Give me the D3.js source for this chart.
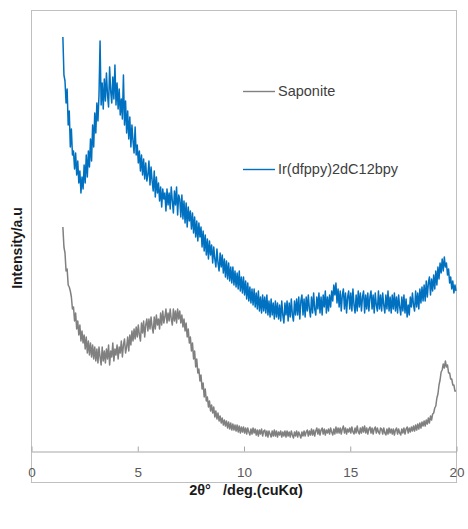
<!DOCTYPE html>
<html>
<head>
<meta charset="utf-8">
<script src="https://cdn.jsdelivr.net/npm/d3@7"></script>
<style>
  html, body { margin: 0; padding: 0; background: #ffffff; }
  svg { display: block; }
</style>
</head>
<body>
<svg id="chart" width="468" height="529"></svg>
<script>
// XRD scan: 2θ from 1.5° to 20° in 0.05° steps
const scanStart = 1.5;
const scanStep = 0.05;

// Ir(dfppy)2dC12bpy intercalated sample (upper trace)
const irComplex = [
  414, 376, 370, 348, 362, 326, 340, 304, 322, 296,
  300, 282, 298, 276, 290, 268, 280, 258, 274, 262,
  286, 268, 296, 274, 300, 284, 312, 290, 326, 304,
  338, 318, 348, 330, 356, 410, 346, 368, 342, 372,
  350, 378, 356, 344, 384, 360, 348, 374, 352, 386,
  346, 368, 342, 362, 336, 352, 332, 376, 326, 350,
  318, 340, 312, 334, 304, 326, 310, 298, 324, 296,
  306, 288, 300, 280, 296, 276, 292, 272, 288, 270,
  276, 290, 266, 284, 270, 260, 280, 254, 274, 258,
  268, 250, 264, 244, 262, 252, 258, 240, 262, 246,
  258, 242, 264, 250, 238, 260, 246, 264, 236, 256,
  252, 234, 256, 232, 250, 228, 248, 224, 244, 230,
  240, 222, 238, 218, 234, 214, 230, 210, 228, 214,
  224, 204, 220, 200, 216, 196, 212, 192, 210, 196,
  206, 188, 204, 192, 184, 202, 188, 180, 198, 184,
  196, 178, 192, 174, 190, 172, 188, 170, 184, 168,
  184, 166, 180, 164, 178, 162, 180, 160, 174, 158,
  174, 156, 170, 152, 168, 150, 164, 148, 162, 146,
  162, 144, 158, 142, 160, 140, 154, 138, 156, 140,
  154, 138, 156, 136, 150, 134, 152, 136, 148, 132,
  150, 134, 148, 132, 146, 130, 150, 136, 128, 148,
  136, 150, 130, 148, 134, 152, 136, 130, 150, 136,
  152, 136, 154, 132, 150, 156, 136, 152, 134, 154,
  140, 156, 142, 134, 154, 138, 158, 142, 136, 154,
  142, 158, 138, 154, 136, 156, 144, 160, 138, 154,
  140, 156, 144, 160, 150, 166, 156, 168, 148, 162,
  144, 160, 140, 156, 162, 142, 158, 138, 154, 160,
  142, 158, 140, 162, 146, 138, 156, 140, 160, 144,
  158, 140, 154, 160, 138, 156, 142, 158, 140, 154,
  160, 142, 156, 138, 158, 146, 140, 160, 142, 156,
  140, 158, 146, 138, 156, 142, 160, 140, 154, 138,
  156, 142, 158, 140, 154, 138, 156, 144, 136, 154,
  140, 156, 138, 152, 134, 146, 136, 154, 144, 158,
  146, 140, 160, 144, 158, 142, 162, 148, 164, 150,
  166, 150, 170, 154, 168, 174, 156, 172, 160, 176,
  162, 180, 166, 184, 172, 188, 178, 192, 180, 194,
  184, 188, 176, 182, 168, 174, 162, 170, 158, 166,
  160
];

// Pristine saponite (lower trace)
const saponite = [
  224, 204, 198, 180, 182, 166, 164, 160, 154, 142,
  144, 130, 138, 122, 130, 116, 126, 110, 120, 108,
  116, 102, 114, 98, 110, 96, 108, 94, 106, 92,
  104, 90, 102, 88, 104, 94, 86, 104, 90, 100,
  88, 102, 92, 106, 86, 100, 94, 108, 90, 102,
  96, 106, 92, 104, 98, 110, 94, 106, 112, 98,
  104, 114, 100, 116, 106, 120, 110, 122, 112, 124,
  114, 126, 116, 110, 128, 118, 130, 114, 126, 132,
  120, 132, 122, 134, 124, 118, 134, 122, 136, 126,
  132, 122, 138, 126, 140, 128, 134, 142, 128, 138,
  130, 142, 132, 126, 142, 130, 140, 128, 142, 132,
  140, 128, 136, 124, 132, 120, 128, 114, 122, 108,
  114, 100, 108, 92, 100, 84, 92, 78, 82, 70,
  76, 62, 68, 54, 62, 50, 54, 44, 50, 40,
  46, 38, 44, 34, 40, 32, 38, 30, 35, 28,
  33, 26, 31, 25, 30, 23, 29, 22, 28, 21,
  27, 21, 26, 20, 26, 19, 25, 18, 24, 19,
  24, 18, 23, 17, 23, 19, 16, 22, 17, 23,
  18, 22, 16, 21, 15, 21, 17, 22, 15, 20,
  21, 15, 20, 14, 20, 17, 14, 20, 15, 21,
  15, 20, 14, 19, 16, 20, 14, 19, 15, 20,
  14, 20, 15, 19, 14, 20, 16, 13, 19, 15,
  20, 14, 19, 16, 13, 19, 15, 20, 15, 19,
  21, 15, 20, 16, 22, 16, 21, 15, 20, 23,
  17, 22, 16, 21, 23, 17, 22, 16, 21, 18,
  22, 17, 23, 19, 16, 22, 17, 24, 18, 23,
  18, 23, 17, 22, 25, 18, 23, 17, 22, 19,
  23, 18, 24, 19, 17, 23, 18, 25, 19, 17,
  23, 18, 24, 19, 25, 18, 23, 17, 22, 24,
  18, 23, 17, 22, 24, 18, 23, 19, 17, 23,
  22, 17, 23, 18, 16, 22, 17, 23, 18, 22,
  17, 22, 16, 21, 23, 17, 22, 18, 16, 22,
  18, 23, 17, 22, 24, 18, 23, 19, 24, 20,
  25, 20, 26, 21, 27, 22, 28, 23, 29, 25,
  30, 25, 31, 27, 33, 28, 35, 31, 37, 38,
  43, 45, 53, 57, 66, 71, 79, 81, 87, 83,
  90, 84, 86, 78, 78, 72, 72, 66, 66, 60,
  60
];

const seriesNames = ["Saponite", "Ir(dfppy)2dC12bpy"];
const seriesColors = ["#808080", "#0070C0"];
const xTicks = [0, 5, 10, 15, 20];
const xDomain = [0, 20];
const yDomain = [0, 441];
const xTitle = "2θ°   /deg.(cuKα)";
const yTitle = "Intensity/a.u";

const svg = d3.select("#chart");

const frame = { left: 31, right: 456, top: 10, bottom: 482 };
const axisY = 451;

const x = d3.scaleLinear().domain(xDomain).range([frame.left, frame.right]);
const y = d3.scaleLinear().domain(yDomain).range([axisY, frame.top]);

// outer frame
svg.append("rect")
  .attr("x", frame.left + 0.5)
  .attr("y", frame.top + 0.5)
  .attr("width", frame.right - frame.left)
  .attr("height", frame.bottom - frame.top)
  .attr("fill", "none")
  .attr("stroke", "#bfbfbf")
  .attr("stroke-width", 1);

// x axis with inward ticks
const xAxis = d3.axisBottom(x)
  .tickValues(xTicks)
  .tickFormat(d3.format("d"))
  .tickSizeInner(-5)
  .tickSizeOuter(0)
  .tickPadding(16);

const gx = svg.append("g")
  .attr("transform", `translate(0.5,${axisY + 0.5})`)
  .call(xAxis);
gx.select(".domain").attr("stroke", "#a6a6a6").attr("stroke-width", 1);
gx.selectAll(".tick line").attr("stroke", "#a6a6a6");
gx.selectAll(".tick text")
  .attr("fill", "#595959")
  .style("font-family", "'Liberation Sans', Arial, sans-serif")
  .style("font-size", "13.5px");

// traces
function toPoints(values) {
  return values.map((v, i) => ({ t: scanStart + i * scanStep, v }));
}

const line = d3.line()
  .x(d => x(d.t))
  .y(d => y(d.v));

const traces = [saponite, irComplex];
traces.forEach((vals, k) => {
  svg.append("path")
    .datum(toPoints(vals))
    .attr("fill", "none")
    .attr("stroke", seriesColors[k])
    .attr("stroke-width", 1.5)
    .attr("stroke-linejoin", "round")
    .attr("d", line);
});

// legend
const legendRows = [91, 169];
seriesNames.forEach((name, k) => {
  const g = svg.append("g").attr("transform", `translate(243,${legendRows[k]})`);
  g.append("line")
    .attr("x1", 0).attr("x2", 32)
    .attr("y1", 0.5).attr("y2", 0.5)
    .attr("stroke", seriesColors[k])
    .attr("stroke-width", 1.4);
  g.append("text")
    .attr("x", 35)
    .attr("y", 5)
    .attr("fill", "#404040")
    .style("font-family", "'Liberation Sans', Arial, sans-serif")
    .style("font-size", "14.5px")
    .text(name);
});

// axis titles
svg.append("text")
  .attr("x", 246)
  .attr("y", 495)
  .attr("text-anchor", "middle")
  .attr("fill", "#1a1a1a")
  .style("font-family", "'Liberation Sans', Arial, sans-serif")
  .style("font-weight", "bold")
  .style("font-size", "14.5px")
  .style("white-space", "pre")
  .text(xTitle);

svg.append("text")
  .attr("transform", "translate(22,248) rotate(-90)")
  .attr("text-anchor", "middle")
  .attr("fill", "#1a1a1a")
  .style("font-family", "'Liberation Sans', Arial, sans-serif")
  .style("font-weight", "bold")
  .style("font-size", "14px")
  .text(yTitle);
</script>
</body>
</html>
